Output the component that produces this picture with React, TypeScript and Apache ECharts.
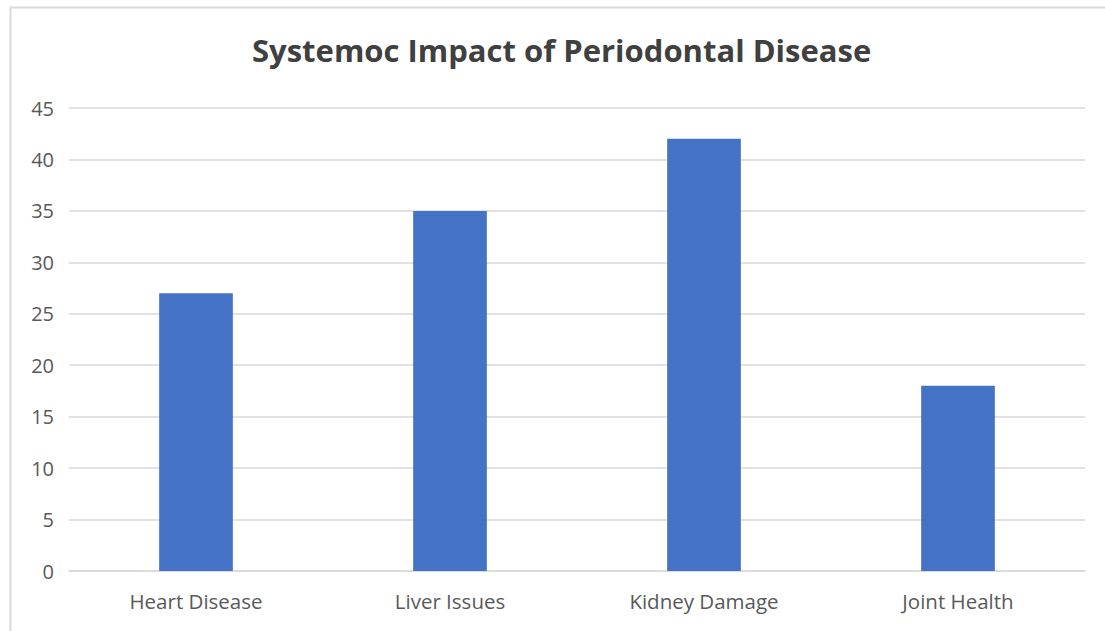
import React, { useEffect, useRef } from "react";
import * as echarts from "echarts";

const categories = ["Heart Disease", "Liver Issues", "Kidney Damage", "Joint Health"];
const values = [27, 35, 42, 18];
const titleText = "Systemoc Impact of Periodontal Disease";

export default function App() {
  const ref = useRef<HTMLDivElement>(null);
  useEffect(() => {
    const chart = echarts.init(ref.current!, null, { renderer: "svg" });
    chart.setOption({
      animation: false,
      backgroundColor: "#ffffff",
      title: {
        text: titleText,
        left: 247,
        top: 29,
        textStyle: { fontFamily: "Open Sans", fontWeight: "bold", fontSize: 31, color: "#404040" },
      },
      graphic: [
        {
          type: "rect",
          shape: { x: 10.5, y: 7.5, width: 1110, height: 640 },
          style: { fill: "none", stroke: "#d9d9d9", lineWidth: 2 },
          silent: true,
        },
      ],
      grid: { left: 69, right: 20, top: 108, bottom: 60, containLabel: false },
      xAxis: {
        type: "category",
        data: categories,
        axisLine: { lineStyle: { color: "#d9d9d9", width: 1.5 } },
        axisTick: { show: false },
        axisLabel: { color: "#595959", fontSize: 20.5, fontFamily: "Open Sans", margin: 19 },
      },
      yAxis: {
        type: "value",
        min: 0,
        max: 45,
        interval: 5,
        axisLine: { show: false },
        axisTick: { show: false },
        splitLine: { lineStyle: { color: "#d9d9d9", width: 1.5 } },
        axisLabel: { color: "#595959", fontSize: 20, fontFamily: "Open Sans", margin: 15 },
      },
      series: [
        {
          type: "bar",
          data: values,
          barWidth: "29%",
          itemStyle: { color: "#4472c4" },
        },
      ],
    });
    return () => chart.dispose();
  }, []);
  return (
    <div
      ref={ref}
      style={{ position: "fixed", left: 0, top: 0, width: 1105, height: 631 }}
    />
  );
}
